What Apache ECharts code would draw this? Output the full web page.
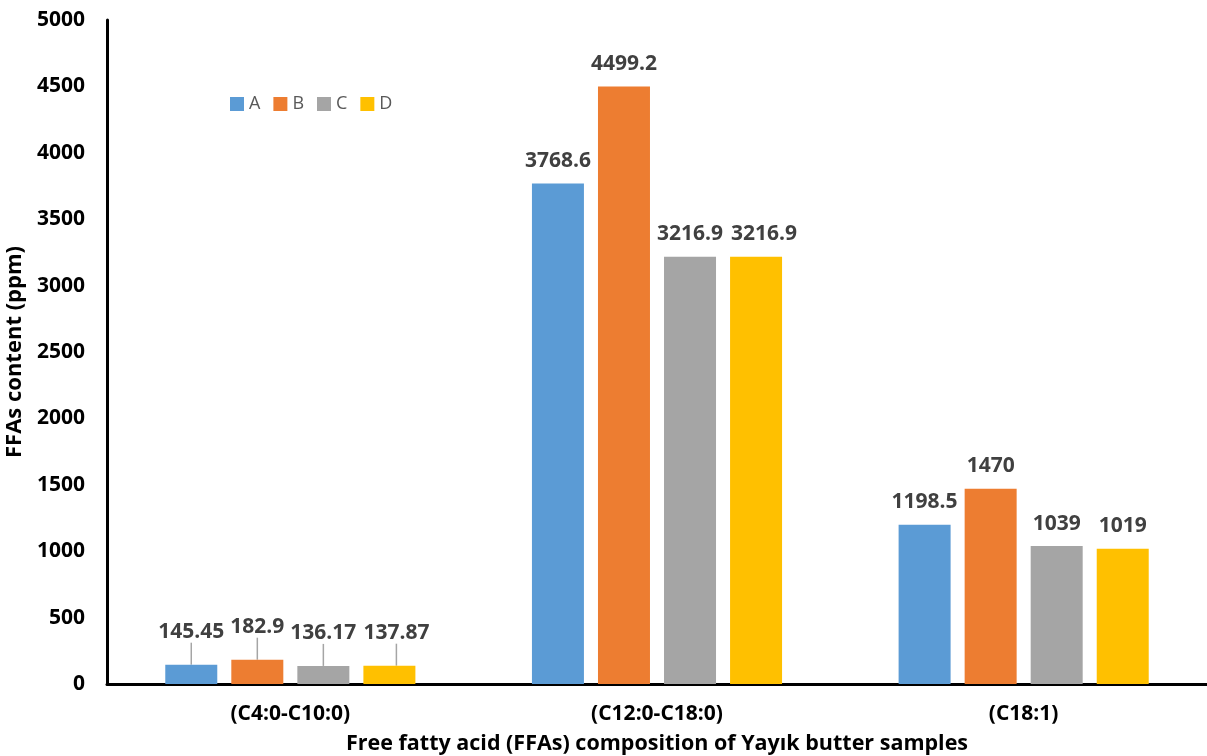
<!DOCTYPE html>
<html>
<head>
<meta charset="utf-8">
<script src="https://cdn.jsdelivr.net/npm/echarts@6/dist/echarts.min.js"></script>
<style>
  html, body { margin: 0; padding: 0; background: #fff; }
  #chart { width: 1207px; height: 756px; }
</style>
</head>
<body>
<div id="chart"></div>
<script>
// FFA groups on the x axis
const categories = ['(C4:0-C10:0)', '(C12:0-C18:0)', '(C18:1)'];

// FFA content (ppm) per butter sample
const sampleA = [145.45, 3768.6, 1198.5];
const sampleB = [182.9, 4499.2, 1470];
const sampleC = [136.17, 3216.9, 1039];
const sampleD = [137.87, 3216.9, 1019];

const seriesNames = ['A', 'B', 'C', 'D'];
const seriesData = [sampleA, sampleB, sampleC, sampleD];
const seriesColors = ['#5B9BD5', '#ED7D31', '#A5A5A5', '#FFC000'];

const FONT = '"Open Sans", "DejaVu Sans", sans-serif';

// label nudges: small first-group labels are raised (with a leader line),
// the last label of a crowded pair is pushed a little to the right
function labelShift(seriesIndex, dataIndex) {
  if (dataIndex === 0) return { dy: -10, dx: seriesIndex === 3 ? 7 : 0 };
  if (dataIndex === 1 && seriesIndex === 3) return { dx: 8 };
  return {};
}

const chart = echarts.init(document.getElementById('chart'), null, { renderer: 'canvas' });

const series = seriesNames.map((name, i) => ({
  name: name,
  type: 'bar',
  data: seriesData[i].map((v, k) => k === 0
    ? { value: v, labelLine: { show: true } }
    : { value: v }),
  barWidth: 52,
  barGap: '27%',
  itemStyle: { color: seriesColors[i] },
  label: {
    show: true,
    position: 'top',
    distance: 12,
    color: '#404040',
    fontFamily: FONT,
    fontWeight: 'bold',
    fontSize: 21
  },
  labelLine: {
    show: false,
    lineStyle: { color: '#A5A5A5', width: 1.5 }
  },
  labelLayout: function (params) {
    return labelShift(i, params.dataIndex);
  }
}));

chart.setOption({
  animation: false,
  backgroundColor: '#ffffff',
  legend: {
    data: seriesNames,
    left: 225,
    top: 90,
    itemWidth: 14,
    itemHeight: 14,
    itemGap: 13,
    icon: 'rect',
    textStyle: { color: '#595959', fontFamily: FONT, fontSize: 18 }
  },
  grid: {
    left: 107, right: 0, top: 20, bottom: 72,
    containLabel: false,
    outerBoundsMode: 'none'
  },
  xAxis: {
    type: 'category',
    data: categories,
    axisLine: { show: true, lineStyle: { color: '#000', width: 3 } },
    axisTick: { show: false },
    axisLabel: {
      color: '#000',
      fontFamily: FONT,
      fontWeight: 'bold',
      fontSize: 21,
      margin: 20
    },
    name: 'Free fatty acid (FFAs) composition of Yayık butter samples',
    nameLocation: 'middle',
    nameGap: 49,
    nameTextStyle: { color: '#000', fontFamily: FONT, fontWeight: 'bold', fontSize: 21.5 }
  },
  yAxis: {
    type: 'value',
    min: 0,
    max: 5000,
    interval: 500,
    splitLine: { show: false },
    axisLine: { show: true, lineStyle: { color: '#000', width: 3 } },
    axisTick: { show: false },
    axisLabel: {
      color: '#000',
      fontFamily: FONT,
      fontWeight: 'bold',
      fontSize: 21,
      margin: 22,
      formatter: function (v) { return String(v); }
    },
    name: 'FFAs content (ppm)',
    nameLocation: 'middle',
    nameGap: 75,
    nameTextStyle: { color: '#000', fontFamily: FONT, fontWeight: 'bold', fontSize: 22 }
  },
  series: series
});
</script>
</body>
</html>
